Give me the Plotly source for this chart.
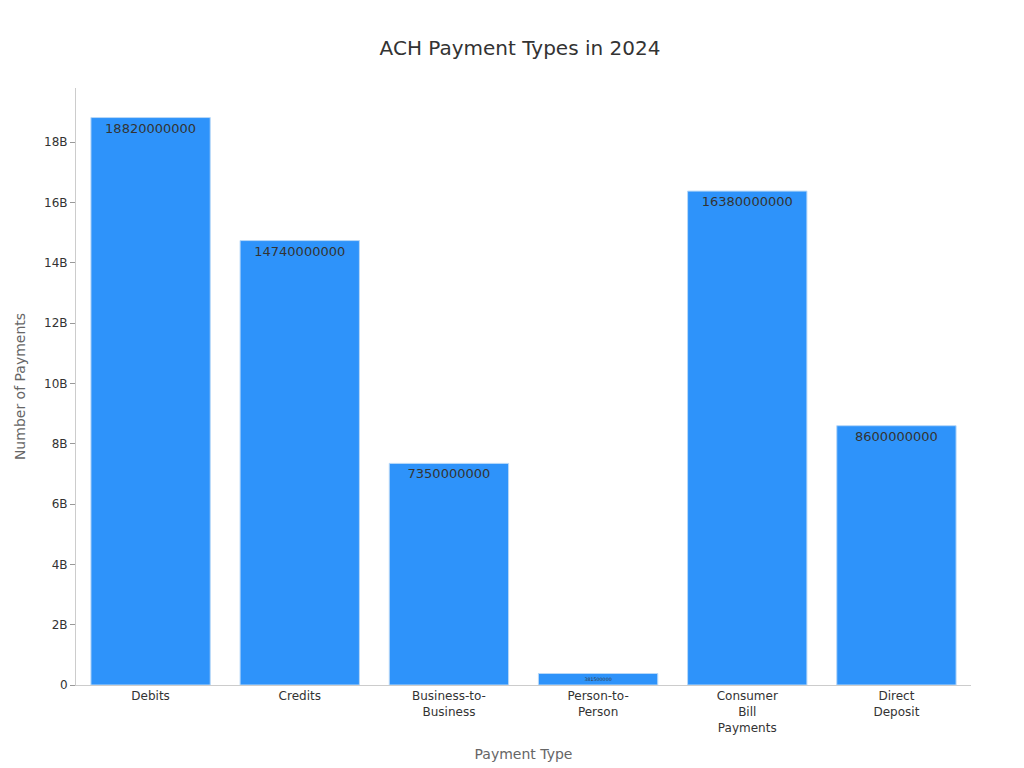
import plotly.graph_objects as go

categories = ["Debits", "Credits", "Business-to-<br>Business", "Person-to-<br>Person",
              "Consumer<br>Bill<br>Payments", "Direct<br>Deposit"]
payments = [18820000000, 14740000000, 7350000000, 381500000, 16380000000, 8600000000]

fig = go.Figure(go.Bar(
    x=categories, y=payments,
    text=[str(v) for v in payments], textposition="inside", insidetextanchor="end",
    textfont=dict(color="#333333", size=13),
    marker=dict(color="#2E93FA", line=dict(color="#b8d8f8", width=1)),
    width=0.8,
))
fig.update_layout(
    width=1024, height=768,
    title=dict(text="ACH Payment Types in 2024", x=0.5, y=0.957, font=dict(size=20, color="#333333")),
    font=dict(family="DejaVu Sans", size=12, color="#333333"),
    plot_bgcolor="white", paper_bgcolor="white",
    margin=dict(l=68, r=61, t=80, b=91),
    showlegend=False,
)
fig.update_xaxes(title=dict(text="Payment Type", font=dict(size=14, color="#666666")),
                 showline=True, linecolor="#cccccc", ticks="", tickfont=dict(size=12))
fig.update_yaxes(title=dict(text="Number of Payments", font=dict(size=14, color="#666666")),
                 range=[0, 19.8e9], tickvals=[i * 2e9 for i in range(10)],
                 ticktext=["0"] + [f"{2*i}B" for i in range(1, 10)],
                 showline=True, linecolor="#cccccc", ticks="outside", ticklen=5, tickcolor="#999999",
                 showgrid=False, zeroline=False)
fig.write_html("out.html")
